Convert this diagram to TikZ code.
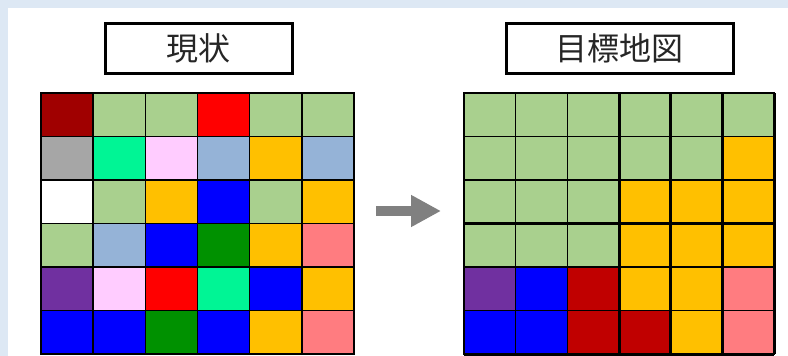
\documentclass[tikz,border=0pt]{standalone}
\usepackage{fontspec}
\newfontfamily\jpfont{Noto Sans CJK JP}
\usepackage{tikz}
\usetikzlibrary{arrows.meta}
\definecolor{bgblue}{HTML}{DDE8F4}
\definecolor{lgrn}{HTML}{A9D08E}
\definecolor{ylw}{HTML}{FFC000}
\definecolor{dred}{HTML}{A00000}
\definecolor{mred}{HTML}{C00000}
\definecolor{rd}{HTML}{FF0000}
\definecolor{gry}{HTML}{A6A6A6}
\definecolor{mint}{HTML}{00F595}
\definecolor{lpink}{HTML}{FFCCFF}
\definecolor{lblu}{HTML}{95B3D7}
\definecolor{blu}{HTML}{0000FF}
\definecolor{grn}{HTML}{009100}
\definecolor{pnk}{HTML}{FF7C80}
\definecolor{purp}{HTML}{7030A0}
\definecolor{wht}{HTML}{FFFFFF}
\tikzstyle{cell}=[draw, line width=1.6, inner sep=0pt, outer sep=0pt, minimum height=43.5]
\tikzstyle{lcell}=[cell, minimum width=52.17]
\tikzstyle{rcell}=[cell, minimum width=51.67]
\tikzstyle{titlebox}=[draw, line width=3, fill=white, inner sep=0pt, minimum height=50, text=black!85, font=\jpfont\fontsize{32}{36}\selectfont]
\tikzstyle{heavy}=[line width=3]

\begin{document}
\begin{tikzpicture}[x=1pt, y=-1pt]
    \useasboundingbox (0,0) rectangle (788,356);
    \fill[bgblue] (0,0) rectangle (788,356);
    \fill[white] (8,8) rectangle (788,356);
    % titles
    \node[titlebox, minimum width=187] (curT) at (198.5,48) {現状};
    \node[titlebox, minimum width=227] (tgtT) at (619.5,48) {目標地図};
    % current state
    \foreach \cols [count=\r] in {{dred,lgrn,lgrn,rd,lgrn,lgrn},
                                  {gry,mint,lpink,lblu,ylw,lblu},
                                  {wht,lgrn,ylw,blu,lgrn,ylw},
                                  {lgrn,lblu,blu,grn,ylw,pnk},
                                  {purp,lpink,rd,mint,blu,ylw},
                                  {blu,blu,grn,blu,ylw,pnk}}
        \foreach \c [count=\k] in \cols
            \node[lcell, fill=\c] (L-\r-\k) at ({41+52.17*(\k-0.5)}, {93+43.5*(\r-0.5)}) {};
    % target map
    \foreach \cols [count=\r] in {{lgrn,lgrn,lgrn,lgrn,lgrn,lgrn},
                                  {lgrn,lgrn,lgrn,lgrn,lgrn,ylw},
                                  {lgrn,lgrn,lgrn,ylw,ylw,ylw},
                                  {lgrn,lgrn,lgrn,ylw,ylw,ylw},
                                  {purp,blu,mred,ylw,ylw,pnk},
                                  {blu,blu,mred,mred,ylw,pnk}}
        \foreach \c [count=\k] in \cols
            \node[rcell, fill=\c] (R-\r-\k) at ({464+51.67*(\k-0.5)}, {93+43.5*(\r-0.5)}) {};
    \foreach \k in {4,5,6}
        \draw[heavy] (R-1-\k.north west) -- (R-6-\k.south west);
    \draw[heavy] (R-4-1.north west) -- (R-4-6.north east);
    \draw[heavy] (R-6-1.south west) -- (R-6-6.south east);
    \draw[heavy] (R-1-6.north east) -- (R-6-6.south east);
    % arrow
    \coordinate (arrS) at (376,211);
    \coordinate (arrE) at (441,211);
    \draw[line width=10, color=gray, -{Triangle[length=30, width=30]}] (arrS) -- (arrE);
\end{tikzpicture}
\end{document}
